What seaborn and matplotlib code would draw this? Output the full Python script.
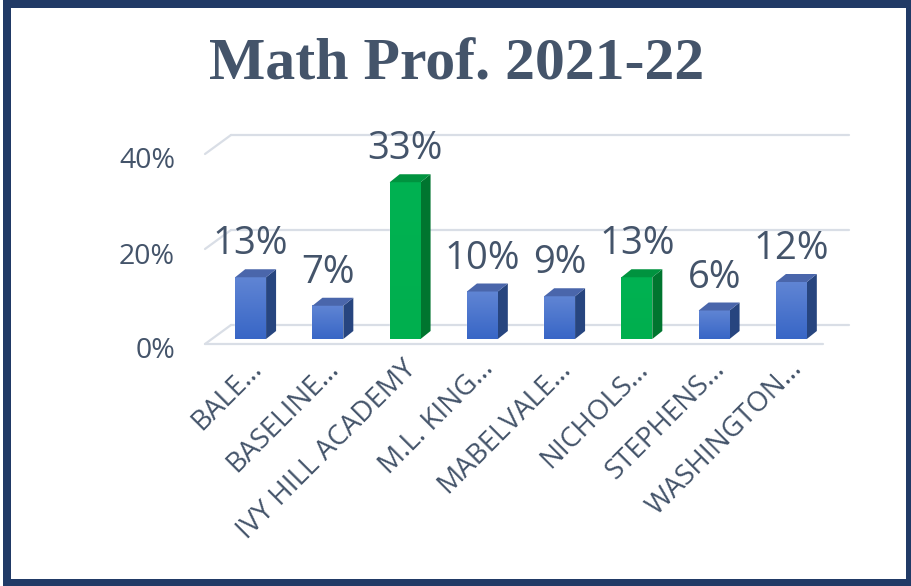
import numpy as np
import pandas as pd
import matplotlib
matplotlib.use("Agg")
import matplotlib.pyplot as plt
import seaborn as sns
from matplotlib.transforms import ScaledTranslation, IdentityTransform
from matplotlib.patches import Polygon, Rectangle
from matplotlib.lines import Line2D
from matplotlib.colors import LinearSegmentedColormap

# ---- data ----
schools = ["BALE…", "BASELINE…", "IVY HILL ACADEMY", "M.L. KING…",
           "MABELVALE…", "NICHOLS…", "STEPHENS…", "WASHINGTON…"]
proficiency = [13, 7, 33, 10, 9, 13, 6, 12]
highlight = ["IVY HILL ACADEMY", "NICHOLS…"]
y_ticks = [0, 20, 40]
y_tick_labels = ["0%", "20%", "40%"]
title = "Math Prof. 2021-22"

sns.set_style("white")
plt.rcParams["font.family"] = ["Open Sans", "DejaVu Sans"]

TEXT = "#44546A"
GRID = "#D9DEE6"
BORDER = "#213A66"

df = pd.DataFrame({"school": schools, "value": proficiency})
df["group"] = np.where(df["school"].isin(highlight), "hi", "base")

DPI = 100
W, H = 912, 586
fig = plt.figure(figsize=(W / DPI, H / DPI), dpi=DPI)
fig.patch.set_facecolor("white")
ax = fig.add_axes([212 / W, 247 / H, 618 / W, 213.75 / H])
ax.set_facecolor("none")

palette = {"base": "#4472C4", "hi": "#00B050"}
sns.barplot(data=df, x="school", y="value", hue="group", palette=palette,
            dodge=False, width=0.4, legend=False, ax=ax, saturation=1,
            zorder=3)
ax.set_xlim(-0.5, len(schools) - 0.5)
ax.set_ylim(0, 45)
for s in ax.spines.values():
    s.set_visible(False)
ax.set_xlabel("")
ax.set_ylabel("")
ax.grid(False)


def px(dx, dy):
    return ScaledTranslation(dx / DPI, dy / DPI, fig.dpi_scale_trans)


FRONT = (-7, -5)
BACK = (19, 14)
DEPTH = (10, 8)
xl = ax.get_xlim()


def disp(x, y, off=(0, 0)):
    X, Y = ax.transData.transform((x, y))
    return (X + off[0], Y + off[1])


# ---- perspective grid ----
for v in y_ticks:
    ax.add_line(Line2D(list(xl), [v, v], transform=ax.transData + px(*BACK),
                       color=GRID, lw=1.6, zorder=1, clip_on=False))
    a = disp(xl[0], v, FRONT)
    b = disp(xl[0], v, BACK)
    ax.add_line(Line2D([a[0], b[0]], [a[1], b[1]], transform=IdentityTransform(),
                       color=GRID, lw=1.6, zorder=1, clip_on=False))
ax.add_line(Line2D(list(xl), [0, 0], transform=ax.transData + px(*FRONT),
                   color=GRID, lw=1.6, zorder=1, clip_on=False))

# ---- 3D bars ----
styles = {
    "base": dict(top="#4A66AB", side="#27457F", grad=["#3866C6", "#6085D4"]),
    "hi": dict(top="#00933F", side="#00752F", grad=["#00AF4E", "#00B252"]),
}
grad = np.linspace(0, 1, 128).reshape(-1, 1)
for p in list(ax.patches):
    x0, y0, w, h = p.get_x(), p.get_y(), p.get_width(), p.get_height()
    idx = int(round(x0 + w / 2))
    st = styles[df["group"].iloc[idx]]
    cmap = LinearSegmentedColormap.from_list("g", st["grad"])
    ax.imshow(grad, extent=[x0, x0 + w, y0, y0 + h], aspect="auto",
              cmap=cmap, origin="lower", zorder=3.5, interpolation="bilinear")
    bl = disp(x0, y0)
    tl = disp(x0, y0 + h)
    tr = disp(x0 + w, y0 + h)
    br = disp(x0 + w, y0)
    dx, dy = DEPTH
    side = Polygon([br, tr, (tr[0] + dx, tr[1] + dy), (br[0] + dx, br[1] + dy)],
                   closed=True, transform=IdentityTransform(), fc=st["side"],
                   ec="none", zorder=3.4, clip_on=False)
    top = Polygon([tl, tr, (tr[0] + dx, tr[1] + dy), (tl[0] + dx, tl[1] + dy)],
                  closed=True, transform=IdentityTransform(), fc=st["top"],
                  ec="none", zorder=3.6, clip_on=False)
    ax.add_patch(side)
    ax.add_patch(top)

ax.set_xlim(*xl)
ax.set_ylim(0, 45)

# ---- value labels ----
for i, v in enumerate(proficiency):
    ax.annotate(f"{v}%", xy=(i, v), xytext=(0, 16.5), textcoords="offset points",
                ha="center", va="baseline", fontsize=27.5, color=TEXT, zorder=5)

# ---- ticks ----
ax.set_yticks(y_ticks, y_tick_labels)
ax.tick_params(axis="y", length=0, pad=21.6, labelsize=20.5, labelcolor=TEXT)
for lab in ax.get_yticklabels():
    lab.set_transform(lab.get_transform() + px(FRONT[0], FRONT[1] - 4))

ax.set_xticks(range(len(schools)), schools)
ax.tick_params(axis="x", length=0, pad=18.7, labelsize=20, labelcolor=TEXT)
for lab in ax.get_xticklabels():
    lab.set_rotation(45)
    lab.set_rotation_mode("anchor")
    lab.set_ha("right")
    lab.set_va("center")
    lab.set_transform(lab.get_transform() + px(7, 0))

# ---- title ----
fig.text(457 / W, (H - 79) / H, title, ha="center", va="baseline",
         fontsize=43, fontweight="bold", family=["Liberation Serif", "DejaVu Serif"],
         color=TEXT)

# ---- border ----
fig.add_artist(Rectangle((7 / W, 3 / H), (910 - 7) / W, (582.5 - 3) / H,
                         transform=fig.transFigure, fill=False, ec=BORDER,
                         lw=8 * 72 / DPI, zorder=10))

fig.savefig("out.png", dpi=DPI)
